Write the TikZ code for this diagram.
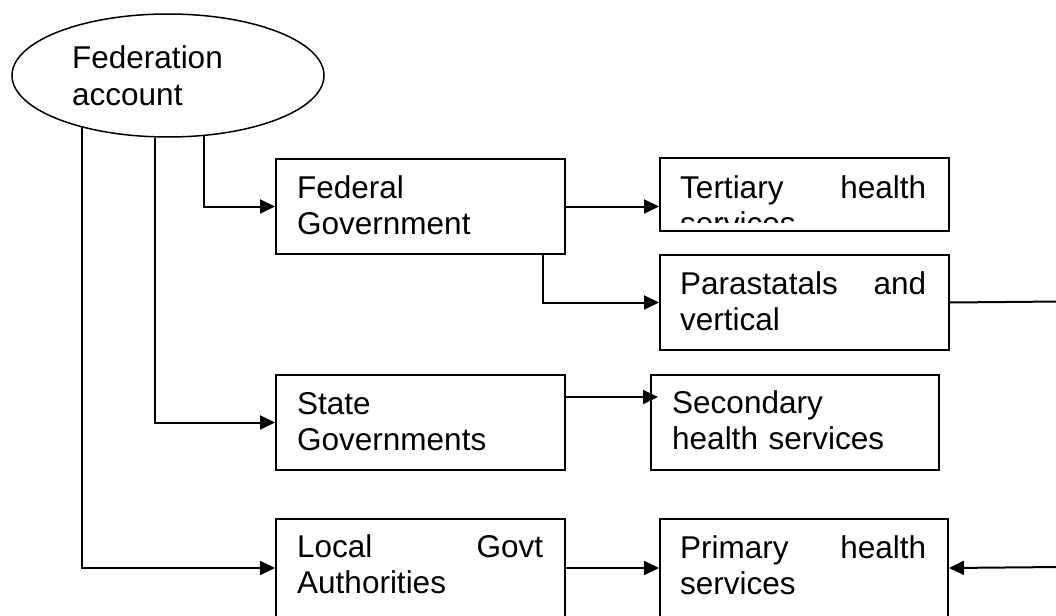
\documentclass[tikz,border=0pt]{standalone}
\usepackage{fontspec}
\setmainfont{Liberation Sans}
\usetikzlibrary{arrows.meta,shapes.geometric,calc}
\begin{document}
\begin{tikzpicture}[x=1pt,y=-1pt,
  box/.style={draw, line width=2pt, rectangle, inner sep=0pt, anchor=north west},
  lbl/.style={anchor=base west, inner sep=0pt, font=\fontsize{31.5}{36.5}\selectfont, text width=246pt},
  conn/.style={line width=2pt},
  arr/.style={conn, -{Triangle[length=15pt,width=14pt]}},
]
\clip (0,0) rectangle (1056,615);
% source ellipse
\node[draw, ellipse, line width=1.5pt, inner sep=0pt, minimum width=312pt, minimum height=123pt] (fa) at (168,75.5) {};
\node[lbl] (fat) at (72,69) {Federation\\account};
% boxes
\node[box, minimum width=289pt, minimum height=95pt] (fg) at (275,158) {};
\node[box, minimum width=289pt, minimum height=73pt] (ter) at (659,157) {};
\node[box, minimum width=289pt, minimum height=95pt] (para) at (659,254) {};
\node[box, minimum width=289pt, minimum height=95pt] (sg) at (275,374) {};
\node[box, minimum width=288pt, minimum height=95pt] (sec) at (650,374) {};
\node[box, minimum width=289pt, minimum height=98pt] (lga) at (275,518) {};
\node[box, minimum width=288pt, minimum height=98pt] (prim) at (659,518) {};
% texts
\node[lbl] (fgt) at (297,198) {Federal\\Government};
\begin{scope}
\clip (659,157) rectangle (948,222);
\node[lbl] (tert) at (680,198) {Tertiary\hfill health\\services};
\end{scope}
\node[lbl] (parat) at (680,294) {Parastatals\hfill and\\vertical};
\node[lbl] (sgt) at (297,414) {State\\Governments};
\node[lbl] (sect) at (672,413) {Secondary\\health services};
\node[lbl] (lgat) at (297,557) {Local\hfill Govt\\Authorities};
\node[lbl] (primt) at (680,558) {Primary\hfill health\\services};
% connectors
\draw[arr] (fa.301) |- (fg.west);
\draw[arr] (fa.258) |- (sg.west);
\draw[arr] (fa.211.3) |- (lga.west);
\draw[arr] (fg.east) -- (fg.east -| ter.west);
\coordinate (fgb) at ($(fg.south east)+(-23,0)$);
\draw[arr] (fgb) |- (para.west);
\coordinate (sgo) at ($(sg.north east)+(0,23)$);
\draw[arr, shorten >=-8pt] (sgo) -- (sgo -| sec.west);
\draw[arr] (lga.east) -- (prim.west);
\coordinate (pe) at (1060,301.5);
\draw[conn] (para.east) -- (pe);
\coordinate (pr) at (1060,567);
\draw[arr] (pr) -- (prim.east);
\end{tikzpicture}
\end{document}
